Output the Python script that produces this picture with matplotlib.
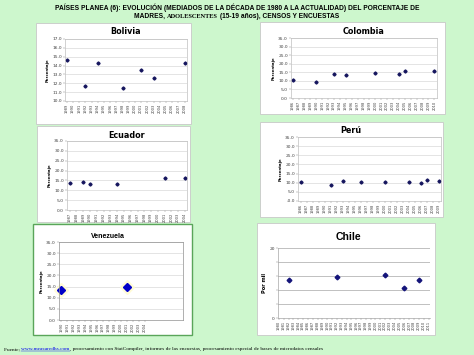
import matplotlib
matplotlib.use('Agg')
import matplotlib.pyplot as plt
from matplotlib.patches import Rectangle
from matplotlib.lines import Line2D

W, H = 474, 355
BG = '#cdf7cd'

# data
bolivia_years = [1989, 1992, 1994, 1998, 2001, 2003, 2008]
bolivia_vals = [14.6, 11.7, 14.3, 11.5, 13.5, 12.6, 14.3]
colombia_years = [1986, 1990, 1993, 1995, 2000, 2004, 2005, 2010]
colombia_vals = [10.4, 9.2, 13.8, 13.3, 14.8, 14.0, 16.0, 15.6]
ecuador_years = [1987, 1989, 1990, 1994, 2001, 2004]
ecuador_vals = [13.6, 14.0, 13.3, 13.0, 16.2, 16.3]
peru_years = [1986, 1991, 1993, 1996, 2000, 2004, 2006, 2007, 2009]
peru_vals = [10.3, 8.7, 10.9, 10.5, 10.3, 10.5, 10.0, 11.3, 10.7]
venezuela_years = [1990, 2001]
venezuela_vals = [13.6, 14.6]
chile_years = [1982, 1992, 2002, 2006, 2009]
chile_vals = [11.0, 11.8, 12.4, 8.6, 10.8]

# tick label ranges
bolivia_ticks = list(range(1989, 2009))
colombia_ticks = list(range(1986, 2011))
ecuador_ticks = list(range(1987, 2005))
peru_ticks = list(range(1986, 2010))
venezuela_ticks = list(range(1990, 2005))
chile_ticks = list(range(1980, 2012))
pct_ticks = [0, 5, 10, 15, 20, 25, 30, 35]

fig = plt.figure(figsize=(W / 100, H / 100), dpi=100, facecolor=BG)


def box(x0, y0, x1, y1, ec='#c8c8c8', lw=0.6):
    fig.add_artist(Rectangle((x0 / W, 1 - y1 / H), (x1 - x0) / W, (y1 - y0) / H,
                             transform=fig.transFigure, fc='white', ec=ec, lw=lw, zorder=0))


def axes(x0, y0, x1, y1):
    return fig.add_axes([x0 / W, 1 - y1 / H, (x1 - x0) / W, (y1 - y0) / H])


def style(ax, xticks, xlim, yticks, ylim, ylabels, ylab, ylab_size=2.8,
          grid='#d9d9d9', spine='#bfbfbf'):
    ax.set_facecolor('white')
    ax.set_xlim(*xlim)
    ax.set_ylim(*ylim)
    ax.set_xticks(xticks)
    ax.set_xticklabels([str(t) for t in xticks], rotation=90, fontsize=2.6, color='#404040')
    ax.set_yticks(yticks)
    ax.set_yticklabels(ylabels, fontsize=3.2, color='#404040')
    ax.tick_params(length=1.2, width=0.3, pad=1, colors='#808080', labelcolor='#404040')
    ax.grid(axis='y', color=grid, lw=0.5)
    ax.set_axisbelow(True)
    for s in ax.spines.values():
        s.set_color(spine)
        s.set_linewidth(0.5)
    ax.set_ylabel(ylab, fontsize=ylab_size, fontweight='bold', labelpad=2)


# Bolivia
box(36, 23, 191, 124)
ax = axes(65, 39, 187, 101)
style(ax, bolivia_ticks, (1988.7, 2008.4), list(range(10, 18)), (10, 17),
      ['%.1f' % v for v in range(10, 18)], 'Porcentaje')
ax.plot(bolivia_years, bolivia_vals, 'D', ms=1.6, color='#16165e')
fig.text(126 / W, 1 - 32 / H, 'Bolivia', ha='center', va='center', fontsize=5.8,
         fontweight='bold', family='DejaVu Sans')

# Colombia
box(260, 22, 445, 114)
ax = axes(291, 38, 437, 98)
style(ax, colombia_ticks, (1985.7, 2010.45), pct_ticks, (0, 35),
      ['%.1f' % v for v in pct_ticks], 'Porcentaje')
ax.plot(colombia_years, colombia_vals, 'D', ms=1.6, color='#16165e')
fig.text(364 / W, 1 - 32 / H, 'Colombia', ha='center', va='center', fontsize=5.8,
         fontweight='bold', family='DejaVu Sans')

# Ecuador
box(37, 126, 190, 222)
ax = axes(67, 141, 187, 210)
style(ax, ecuador_ticks, (1986.6, 2004.3), pct_ticks, (0, 35),
      ['%.1f' % v for v in pct_ticks], 'Porcentaje')
ax.plot(ecuador_years, ecuador_vals, 'D', ms=1.6, color='#16165e')
fig.text(127 / W, 1 - 136 / H, 'Ecuador', ha='center', va='center', fontsize=5.8,
         fontweight='bold', family='DejaVu Sans')

# Perú
box(260, 122, 443, 217)
ax = axes(298, 137, 441, 201)
peru_labels = ['%.1f' % v for v in pct_ticks]
peru_labels[0] = '-0.0'
style(ax, peru_ticks, (1985.5, 2009.4), pct_ticks, (0, 35), peru_labels, 'Porcentaje')
ax.plot(peru_years, peru_vals, 'D', ms=1.6, color='#16165e')
fig.text(351 / W, 1 - 131 / H, 'Perú', ha='center', va='center', fontsize=5.8,
         fontweight='bold', family='DejaVu Sans')

# Venezuela
box(33, 224, 192, 335, ec='#5aa55a', lw=1.0)
ax = axes(59, 242, 183, 320)
style(ax, venezuela_ticks, (1989.6, 2010.4), pct_ticks, (0, 35),
      ['%.1f' % v for v in pct_ticks], 'Porcentaje', spine='#909090')
ax.plot(venezuela_years, venezuela_vals, 'D', ms=7, color='#fffbd0', alpha=0.8, clip_on=False)
ax.plot(venezuela_years, venezuela_vals, 'D', ms=4, color='#0000c8', clip_on=False)
fig.text(108 / W, 1 - 236 / H, 'Venezuela', ha='center', va='center', fontsize=5,
         fontweight='bold', family='Liberation Sans')

# Chile
box(257, 223, 435, 335)
ax = axes(278, 248, 430, 318)
style(ax, chile_ticks, (1979.8, 2011.3), [0, 4, 8, 12, 16, 20], (0, 20),
      ['0', '', '', '', '', '20'], 'Por mil', ylab_size=3.6, grid='#a6a6a6',
      spine='#a6a6a6')
ax.spines['top'].set_visible(False)
ax.spines['right'].set_visible(False)
ax.plot(chile_years, chile_vals, 'D', ms=2.4, color='#14147a')
fig.text(348 / W, 1 - 237 / H, 'Chile', ha='center', va='center', fontsize=7.6,
         fontweight='bold', family=['Liberation Sans Narrow', 'Liberation Sans'])

# header and footer, built from pieces
fig.canvas.draw()
renderer = fig.canvas.get_renderer()


def row(pieces, x, y, center=False):
    texts = []
    for s, kw in pieces:
        t = fig.text(0, 1 - y / H, s, va='center', ha='left', **kw)
        texts.append(t)
    widths = [t.get_window_extent(renderer).width for t in texts]
    x0 = x - sum(widths) / 2 if center else x
    for t, w in zip(texts, widths):
        t.set_x(x0 / W)
        x0 += w
    return texts, widths


hdr = dict(fontsize=4.8, fontweight='bold', family='Liberation Sans')
row([('PAÍSES PLANEA (6): EVOLUCIÓN (MEDIADOS DE LA DÉCADA DE 1980 A LA ACTUALIDAD) '
      'DEL PORCENTAJE DE', hdr)], 237, 7.5, center=True)
row([('MADRES, ', hdr),
     ('ADOLESCENTES', dict(fontsize=4.6, fontweight='bold', family='Liberation Serif')),
     (' (15-19 años), CENSOS Y ENCUESTAS', hdr)], 237, 16.3, center=True)

foot = dict(fontsize=3.9, family='Liberation Serif')
texts, widths = row([('Fuente; ', foot),
                     ('www.measuredhs.com', dict(foot, color='#0000ee')),
                     (', procesamiento con StatCompiler, informes de las encuestas, '
                      'procesamiento especial de bases de microdatos censales', foot)],
                    4, 349)
ux0 = 4 + widths[0]
fig.add_artist(Line2D([ux0 / W, (ux0 + widths[1]) / W], [1 - 351.3 / H, 1 - 351.3 / H],
                      transform=fig.transFigure, color='#0000ee', lw=0.3))

fig.savefig('out.png', dpi=100, facecolor=BG)
